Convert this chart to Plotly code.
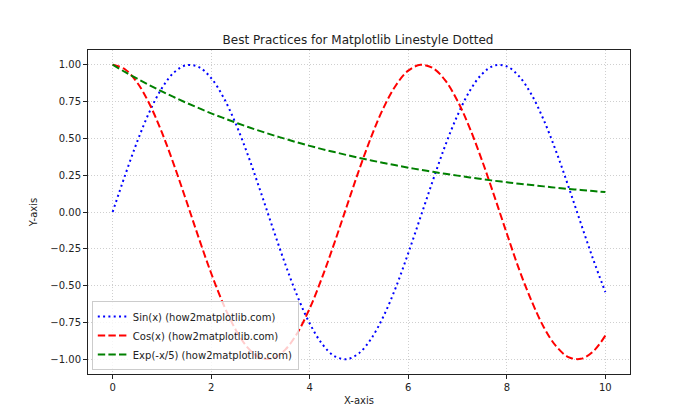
import plotly.graph_objects as go

x_vals = [0, 0.25, 0.5, 0.75, 1, 1.25, 1.5, 1.75, 2, 2.25, 2.5, 2.75, 3, 3.25, 3.5, 3.75, 4, 4.25, 4.5, 4.75,
          5, 5.25, 5.5, 5.75, 6, 6.25, 6.5, 6.75, 7, 7.25, 7.5, 7.75, 8, 8.25, 8.5, 8.75, 9, 9.25, 9.5, 9.75, 10]
sin_vals = [0, .247, .479, .682, .841, .949, .997, .984, .909, .778, .598, .382, .141, -.108, -.351, -.572, -.757,
            -.895, -.978, -.999, -.959, -.859, -.706, -.510, -.279, -.033, .215, .451, .657, .823, .938, .995, .989,
            .921, .798, .624, .412, .174, -.075, -.319, -.544]
cos_vals = [1, .969, .878, .732, .540, .315, .071, -.178, -.416, -.628, -.801, -.924, -.990, -.994, -.936, -.821,
            -.654, -.446, -.211, .037, .284, .512, .709, .861, .960, .999, .977, .894, .754, .568, .347, .104, -.146,
            -.390, -.602, -.782, -.911, -.985, -.997, -.948, -.839]
exp_vals = [1, .951, .905, .861, .819, .779, .741, .705, .670, .638, .607, .577, .549, .522, .497, .472, .449, .427,
            .407, .387, .368, .350, .333, .317, .301, .287, .273, .259, .247, .235, .223, .212, .202, .192, .183, .174,
            .165, .157, .150, .142, .135]
series_names = ["Sin(x) (how2matplotlib.com)", "Cos(x) (how2matplotlib.com)", "Exp(-x/5) (how2matplotlib.com)"]
x_ticks = [0, 2, 4, 6, 8, 10]
y_ticks = [-1.0, -0.75, -0.5, -0.25, 0.0, 0.25, 0.5, 0.75, 1.0]

FONT = "DejaVu Sans"
fig = go.Figure()
fig.add_trace(go.Scatter(x=x_vals, y=sin_vals, mode="lines", name=series_names[0], line_shape="spline",
                         line=dict(color="blue", width=2, dash="2px,3.3px")))
fig.add_trace(go.Scatter(x=x_vals, y=cos_vals, mode="lines", name=series_names[1], line_shape="spline",
                         line=dict(color="red", width=2, dash="7.4px,3.2px")))
fig.add_trace(go.Scatter(x=x_vals, y=exp_vals, mode="lines", name=series_names[2], line_shape="spline",
                         line=dict(color="green", width=2, dash="7.4px,3.2px")))

axis_common = dict(showline=True, linecolor="#222", linewidth=1, mirror=True, ticks="outside", ticklen=4,
                   tickcolor="#222", showgrid=True, gridcolor="#cfcfcf", griddash="1px,2px", gridwidth=1,
                   zeroline=False, tickfont=dict(size=10, color="#222"))
fig.update_layout(
    width=700, height=420,
    paper_bgcolor="white", plot_bgcolor="white",
    font=dict(family=FONT, color="#222"),
    margin=dict(l=80, r=78, t=42, b=54),
    title=dict(text="Best Practices for Matplotlib Linestyle Dotted", x=0.5, xanchor="center", y=0.924,
               yanchor="middle", font=dict(size=12)),
    xaxis=dict(range=[-0.5, 10.5], tickvals=x_ticks, title=dict(text="X-axis", font=dict(size=10), standoff=4),
               **axis_common),
    yaxis=dict(range=[-1.1, 1.1], tickvals=y_ticks, tickformat=".2f", title=dict(text="Y-axis", font=dict(size=10),
               standoff=10), **axis_common),
    legend=dict(x=0.007, y=0.012, xanchor="left", yanchor="bottom", bgcolor="rgba(255,255,255,0.8)",
                bordercolor="#cccccc", borderwidth=1, font=dict(size=10), tracegroupgap=0, itemwidth=30),
    showlegend=True,
)
fig.write_html("out.html")
